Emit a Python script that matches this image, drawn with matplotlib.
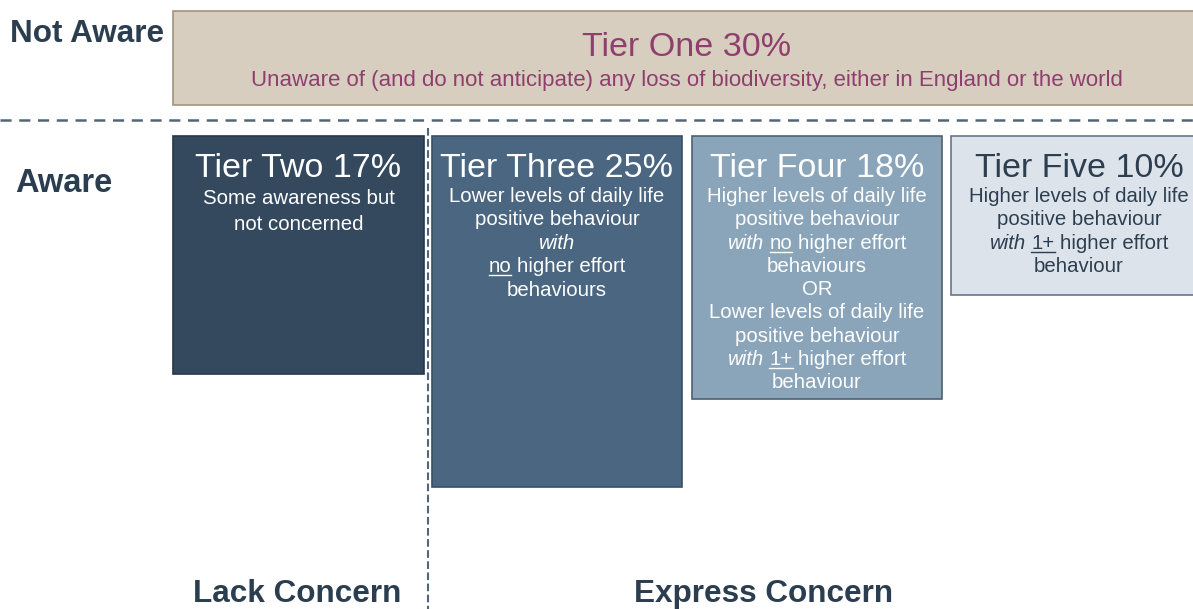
import matplotlib.pyplot as plt
from matplotlib.patches import Rectangle

plt.rcParams['font.family'] = ['Liberation Sans', 'DejaVu Sans']
plt.rcParams['lines.scale_dashes'] = False

# 数据
tier_names = ['Tier One', 'Tier Two', 'Tier Three', 'Tier Four', 'Tier Five']
tier_shares = [30, 17, 25, 18, 10]
tier_one_desc = 'Unaware of (and do not anticipate) any loss of biodiversity, either in England or the world'
# 每行由若干段组成: (文字, 样式)  n=普通 i=斜体 u=下划线
tier_two_lines = [[('Some awareness but', 'n')], [('not concerned', 'n')]]
tier_three_lines = [
    [('Lower levels of daily life', 'n')],
    [('positive behaviour', 'n')],
    [('with', 'i')],
    [('no', 'u'), ('higher effort', 'n')],
    [('behaviours', 'n')],
]
tier_four_lines = [
    [('Higher levels of daily life', 'n')],
    [('positive behaviour', 'n')],
    [('with', 'i'), ('no', 'u'), ('higher effort', 'n')],
    [('behaviours', 'n')],
    [('OR', 'n')],
    [('Lower levels of daily life', 'n')],
    [('positive behaviour', 'n')],
    [('with', 'i'), ('1+', 'u'), ('higher effort', 'n')],
    [('behaviour', 'n')],
]
tier_five_lines = [
    [('Higher levels of daily life', 'n')],
    [('positive behaviour', 'n')],
    [('with', 'i'), ('1+', 'u'), ('higher effort', 'n')],
    [('behaviour', 'n')],
]
row_labels = ['Not Aware', 'Aware']
col_labels = ['Lack Concern', 'Express Concern']

# 画布 (坐标单位 = 像素)
fig = plt.figure(figsize=(11.93, 6.09), dpi=100)
ax = fig.add_axes([0, 0, 1, 1])
ax.set_xlim(0, 1193)
ax.set_ylim(609, 0)
ax.axis('off')
renderer = fig.canvas.get_renderer()

label_col = '#2b3e50'
line_col = '#51667a'


def text_width(txt, size, style):
    t = ax.text(0, 0, txt, fontsize=size, fontstyle='italic' if style == 'i' else 'normal')
    w = t.get_window_extent(renderer).width
    t.remove()
    return w


def rich_line(xc, y, segs, size, color):
    space = text_width('x x', size, 'n') - text_width('xx', size, 'n')
    widths = [text_width(s, size, st) for s, st in segs]
    total = sum(widths) + space * (len(segs) - 1)
    x = xc - total / 2
    for (s, st), w in zip(segs, widths):
        ax.text(x, y, s, fontsize=size, color=color, ha='left', va='baseline',
                fontstyle='italic' if st == 'i' else 'normal')
        if st == 'u':
            ax.plot([x, x + w], [y + 3, y + 3], color=color, lw=1)
        x += w + space


# Tier One
ax.add_patch(Rectangle((173, 11), 1030, 94, facecolor='#d7cebf', edgecolor='#a3957f', lw=1.2))
ax.text(687, 56, f'{tier_names[0]} {tier_shares[0]}%', fontsize=24.5, color='#8e3f6e',
        ha='center', va='baseline')
ax.text(687, 86, tier_one_desc, fontsize=16, color='#8e3f6e', ha='center', va='baseline')

# 虚线
ax.plot([0, 1193], [120, 120], color=line_col, lw=1.8, dashes=(8, 5.5))
ax.plot([428, 428], [128, 609], color=line_col, lw=1.5, dashes=(5.5, 2.5))

# 其余四个方框
boxes = [
    (173, 424, 136, 374, '#34495e', '#26384a', 'white', tier_two_lines, 204, 26),
    (432, 682, 136, 487, '#4a6680', '#3a5066', 'white', tier_three_lines, 202, 23.4),
    (692, 942, 136, 399, '#8aa4ba', '#4e6070', 'white', tier_four_lines, 202, 23.3),
    (951, 1200, 136, 295, '#dce3eb', '#66768a', '#2c3e50', tier_five_lines, 202, 23.3),
]
for i, (x0, x1, y0, y1, fc, ec, tc, lines, ystart, step) in enumerate(boxes):
    ax.add_patch(Rectangle((x0, y0), x1 - x0, y1 - y0, facecolor=fc, edgecolor=ec, lw=1.2))
    xc = (x0 + x1) / 2 if i < 3 else 1079
    ax.text(xc, 177, f'{tier_names[i + 1]} {tier_shares[i + 1]}%', fontsize=24.5, color=tc,
            ha='center', va='baseline')
    for k, segs in enumerate(lines):
        rich_line(xc, ystart + k * step, segs, 14.7, tc)

# 行标签 / 列标签
ax.text(10, 42, row_labels[0], fontsize=22.7, fontweight='bold', color=label_col, va='baseline')
ax.text(15, 192, row_labels[1], fontsize=23.5, fontweight='bold', color=label_col, va='baseline')
ax.text(297, 602, col_labels[0], fontsize=22.7, fontweight='bold', color=label_col,
        ha='center', va='baseline')
ax.text(764, 602, col_labels[1], fontsize=22.7, fontweight='bold', color=label_col,
        ha='center', va='baseline')

fig.savefig('out.png', dpi=100)
